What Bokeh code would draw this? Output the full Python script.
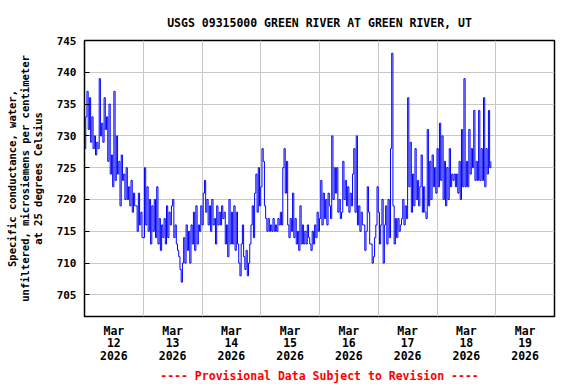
from bokeh.plotting import figure
from bokeh.models import FixedTicker, Range1d
from bokeh.embed import file_html
from bokeh.resources import INLINE

FONT = "DejaVu Sans Mono"

title_text = "USGS 09315000 GREEN RIVER AT GREEN RIVER, UT"
footer_text = "---- Provisional Data Subject to Revision ----"
y_label = ("Specific conductance, water,\n"
           "unfiltered, microsiemens per centimeter\n"
           "at 25 degrees Celsius")

# hours since Mar 12 2026 00:00
label_hours = [12, 36, 60, 84, 108, 132, 156, 180]
day_labels = ["Mar\n12\n2026", "Mar\n13\n2026", "Mar\n14\n2026", "Mar\n15\n2026",
              "Mar\n16\n2026", "Mar\n17\n2026", "Mar\n18\n2026", "Mar\n19\n2026"]
grid_hours = [24, 48, 72, 96, 120, 144, 168]
y_ticks = [705, 710, 715, 720, 725, 730, 735, 740, 745]

# 30-minute values, microsiemens per centimeter
mar12 = [728, 733, 737, 731, 736, 729, 733, 728, 730, 727, 729, 728,
         739, 730, 732, 729, 736, 731, 733, 726, 735, 724, 727, 722,
         737, 723, 730, 724, 726, 719, 727, 723, 724, 720, 725, 720,
         722, 719, 723, 718, 721, 719, 719, 715, 721, 716, 718, 714]
mar13 = [714, 725, 716, 722, 715, 720, 713, 719, 715, 720, 714, 722,
         713, 717, 712, 716, 714, 717, 713, 719, 714, 718, 716, 719,
         720, 714, 716, 713, 712, 711, 709, 707, 710, 714, 710, 716,
         712, 715, 710, 716, 713, 718, 712, 719, 713, 716, 715, 719]
mar14 = [716, 721, 723, 718, 720, 716, 719, 715, 720, 716, 717, 713,
         719, 716, 718, 716, 719, 717, 718, 713, 716, 711, 720, 713,
         718, 713, 719, 712, 718, 713, 710, 708, 713, 716, 711, 709,
         712, 708, 710, 713, 716, 719, 714, 721, 724, 718, 725, 719]
mar15 = [722, 728, 726, 719, 717, 715, 717, 715, 716, 715, 717, 715,
         716, 715, 717, 716, 718, 716, 725, 728, 721, 726, 716, 714,
         717, 715, 721, 714, 717, 713, 715, 712, 719, 713, 716, 713,
         715, 713, 716, 714, 713, 712, 715, 713, 716, 714, 718, 715]
mar16 = [717, 723, 716, 721, 717, 720, 716, 721, 719, 717, 730, 720,
         725, 721, 725, 718, 720, 717, 718, 726, 720, 723, 719, 722,
         718, 721, 719, 724, 728, 718, 730, 716, 719, 715, 718, 716,
         716, 712, 715, 722, 718, 713, 713, 710, 711, 714, 716, 722]
mar17 = [718, 713, 716, 720, 710, 716, 719, 713, 720, 714, 728, 743,
         719, 713, 717, 714, 717, 715, 716, 717, 720, 716, 719, 717,
         736, 722, 729, 718, 724, 719, 728, 720, 723, 719, 722, 727,
         718, 722, 718, 717, 731, 719, 726, 720, 727, 722, 725, 721]
mar18 = [728, 722, 732, 723, 730, 720, 726, 719, 725, 720, 728, 722,
         724, 723, 724, 722, 724, 721, 726, 720, 731, 722, 739, 722,
         726, 722, 731, 724, 728, 725, 734, 723, 726, 723, 734, 723,
         728, 723, 736, 722, 728, 724, 734, 725, 726]

values = mar12 + mar13 + mar14 + mar15 + mar16 + mar17 + mar18
hours = [i * 0.5 for i in range(len(values))]

p = figure(frame_width=470, frame_height=276,
           min_border_left=84, min_border_right=20,
           min_border_top=40, min_border_bottom=66,
           x_range=Range1d(0, 192), y_range=Range1d(701.6, 745),
           output_backend="svg", toolbar_location=None)

p.step(hours, values, mode="after", line_color="#0000ff", line_width=1)

p.outline_line_color = "black"
p.outline_line_width = 1.5
p.background_fill_color = "white"
p.border_fill_color = "white"

# title
p.title.text = title_text
p.title.align = "center"
p.title.text_font = FONT
p.title.text_font_style = "bold"
p.title.text_font_size = "11.5px"
p.title.text_color = "black"
p.title.standoff = 22

# x axis
p.xaxis.ticker = FixedTicker(ticks=label_hours)
p.xaxis.major_label_overrides = {h: lab for h, lab in zip(label_hours, day_labels)}
p.xaxis.major_tick_in = 0
p.xaxis.major_tick_out = 0
p.xaxis.minor_tick_line_color = None
p.xaxis.axis_line_color = None
p.xaxis.major_label_standoff = 7
p.xaxis.major_label_text_font = FONT
p.xaxis.major_label_text_font_style = "bold"
p.xaxis.major_label_text_font_size = "11.5px"
p.xaxis.major_label_text_color = "black"
p.xaxis.major_label_text_line_height = 0.92
p.xaxis.axis_label = footer_text
p.xaxis.axis_label_standoff = 3
p.xaxis.axis_label_text_font = FONT
p.xaxis.axis_label_text_font_style = "bold"
p.xaxis.axis_label_text_font_size = "11.5px"
p.xaxis.axis_label_text_color = "#ff0000"

p.xgrid.ticker = FixedTicker(ticks=grid_hours)
p.xgrid.grid_line_color = "#c8c8c8"
p.xgrid.grid_line_width = 1

# y axis
p.yaxis.ticker = FixedTicker(ticks=y_ticks)
p.yaxis.major_tick_in = 5
p.yaxis.major_tick_out = 0
p.yaxis.major_tick_line_color = "black"
p.yaxis.minor_tick_line_color = None
p.yaxis.axis_line_color = None
p.yaxis.major_label_standoff = 8
p.yaxis.major_label_text_font = FONT
p.yaxis.major_label_text_font_style = "bold"
p.yaxis.major_label_text_font_size = "11px"
p.yaxis.major_label_text_color = "black"
p.yaxis.axis_label = y_label
p.yaxis.axis_label_standoff = 10
p.yaxis.axis_label_text_font = FONT
p.yaxis.axis_label_text_font_style = "bold"
p.yaxis.axis_label_text_font_size = "10.5px"
p.yaxis.axis_label_text_color = "black"
p.yaxis.axis_label_text_line_height = 1.05

p.ygrid.grid_line_color = "#c8c8c8"
p.ygrid.grid_line_width = 1

open("out.html", "w").write(file_html(p, INLINE))
